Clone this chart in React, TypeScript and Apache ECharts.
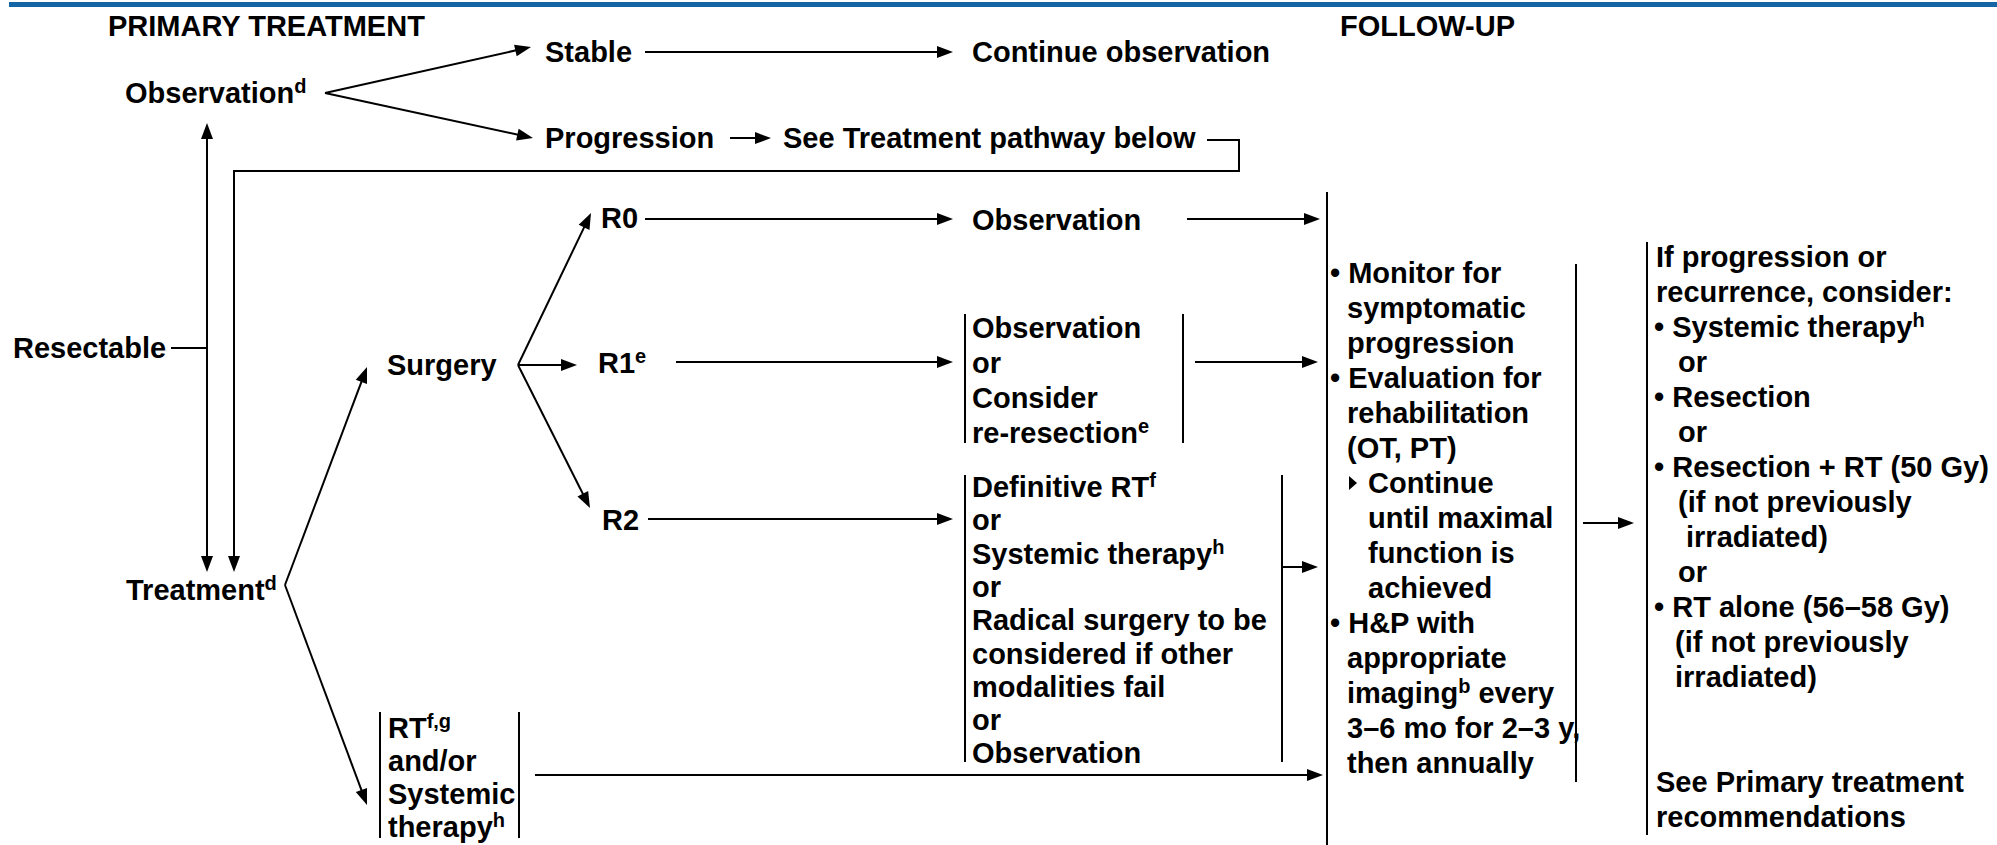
import React, { useEffect, useRef } from "react";
import * as echarts from "echarts";

// ---- content ----
const headers = ["PRIMARY TREATMENT", "FOLLOW-UP"];
const entryLabels = ["Observation{sup|d}", "Resectable", "Treatment{sup|d}"];
const observationBranches = ["Stable", "Progression"];
const observationOutcomes = ["Continue observation", "See Treatment pathway below"];
const treatmentBranches = ["Surgery"];
const resectionMargins = ["R0", "R1{sup|e}", "R2"];
const r0Options = ["Observation"];
const r1Options = ["Observation", "or", "Consider", "re-resection{sup|e}"];
const r2Options = [
  "Definitive RT{sup|f}", "or", "Systemic therapy{sup|h}", "or",
  "Radical surgery to be", "considered if other", "modalities fail", "or", "Observation",
];
const rtOptions = ["RT{sup|f,g}", "and/or", "Systemic", "therapy{sup|h}"];
const followUpLines = [
  "• Monitor for", "symptomatic", "progression", "• Evaluation for", "rehabilitation",
  "(OT, PT)", "Continue", "until maximal", "function is", "achieved", "• H&P with",
  "appropriate", "imaging{sup|b} every", "3–6 mo for 2–3 y,", "then annually",
];
const recurrenceLines = [
  "If progression or", "recurrence, consider:", "• Systemic therapy{sup|h}", "or",
  "• Resection", "or", "• Resection + RT (50 Gy)", "(if not previously", "irradiated)",
  "or", "• RT alone (56–58 Gy)", "(if not previously", "irradiated)", "", "",
  "See Primary treatment", "recommendations",
];

// ---- layout ----
const FONT = '"Liberation Sans", Arial, Helvetica, sans-serif';
const INK = "#000";
const BLUE = "#1365a6";

function txt(str: string, x: number, y: number): any {
  return {
    type: "text",
    x,
    y,
    silent: true,
    style: {
      text: str,
      fill: INK,
      fontSize: 29,
      fontWeight: "bold",
      fontFamily: FONT,
      align: "left",
      verticalAlign: "middle",
      lineHeight: 35,
      rich: {
        sup: {
          fontSize: 20,
          fontWeight: "bold",
          fontFamily: FONT,
          fill: INK,
          lineHeight: 35,
          padding: [0, 0, 14, 0],
        },
      },
    },
  };
}

function seg(x1: number, y1: number, x2: number, y2: number): any {
  return {
    type: "line",
    silent: true,
    shape: { x1, y1, x2, y2 },
    style: { stroke: INK, lineWidth: 2 },
  };
}

function head(x1: number, y1: number, x2: number, y2: number, L = 16, W = 6): any {
  const dx = x2 - x1;
  const dy = y2 - y1;
  const len = Math.sqrt(dx * dx + dy * dy);
  const ux = dx / len;
  const uy = dy / len;
  const bx = x2 - ux * L;
  const by = y2 - uy * L;
  return {
    type: "polygon",
    silent: true,
    shape: {
      points: [
        [x2, y2],
        [bx - uy * W, by + ux * W],
        [bx + uy * W, by - ux * W],
      ],
    },
    style: { fill: INK },
  };
}

function arrow(x1: number, y1: number, x2: number, y2: number): any[] {
  const dx = x2 - x1;
  const dy = y2 - y1;
  const len = Math.sqrt(dx * dx + dy * dy);
  const bx = x2 - (dx / len) * 14;
  const by = y2 - (dy / len) * 14;
  return [seg(x1, y1, bx, by), head(x1, y1, x2, y2)];
}

function buildGraphics(): any[] {
  const g: any[] = [];
  // top rule
  g.push({ type: "rect", silent: true, shape: { x: 9, y: 2, width: 1988, height: 5 }, style: { fill: BLUE } });

  // headers
  g.push(txt(headers[0], 108, 26));
  g.push(txt(headers[1], 1340, 26));

  // entry labels
  g.push(txt(entryLabels[0], 125, 93));
  g.push(txt(entryLabels[1], 13, 348));
  g.push(txt(entryLabels[2], 126, 590));

  // observation branch
  g.push(...arrow(325, 93, 531, 47));
  g.push(...arrow(325, 93, 533, 138));
  g.push(txt(observationBranches[0], 545, 52));
  g.push(txt(observationBranches[1], 545, 138));
  g.push(...arrow(645, 52, 953, 52));
  g.push(txt(observationOutcomes[0], 972, 52));
  g.push(...arrow(730, 138, 771, 138));
  g.push(txt(observationOutcomes[1], 783, 138));
  // feedback path to treatment
  g.push({
    type: "polyline",
    silent: true,
    shape: { points: [[1207, 140], [1239, 140], [1239, 171], [234, 171], [234, 560]] },
    style: { stroke: INK, lineWidth: 2, fill: "none" },
  });
  g.push(head(234, 171, 234, 572));

  // double arrow observation <-> treatment
  g.push(seg(207, 137, 207, 560));
  g.push(head(207, 348, 207, 123));
  g.push(head(207, 348, 207, 572));
  g.push(seg(171, 348, 207, 348));

  // treatment branches
  g.push(...arrow(285, 585, 367, 367));
  g.push(...arrow(285, 585, 367, 805));
  g.push(txt(treatmentBranches[0], 387, 365));

  // surgery branches
  g.push(...arrow(518, 365, 591, 213));
  g.push(...arrow(518, 365, 577, 365));
  g.push(...arrow(518, 365, 590, 508));
  g.push(txt(resectionMargins[0], 601, 218));
  g.push(txt(resectionMargins[1], 598, 363));
  g.push(txt(resectionMargins[2], 602, 520));

  // R0
  g.push(...arrow(645, 219, 953, 219));
  g.push(txt(r0Options[0], 972, 220));
  g.push(...arrow(1187, 219, 1320, 219));

  // R1
  g.push(...arrow(676, 362, 953, 362));
  g.push(seg(965, 314, 965, 443));
  g.push(seg(1183, 314, 1183, 443));
  r1Options.forEach((s, i) => g.push(txt(s, 972, 328 + i * 35)));
  g.push(...arrow(1195, 362, 1318, 362));

  // R2
  g.push(...arrow(648, 519, 953, 519));
  g.push(seg(965, 475, 965, 762));
  g.push(seg(1282, 475, 1282, 762));
  r2Options.forEach((s, i) => g.push(txt(s, 972, 487 + i * 33.3)));
  g.push(...arrow(1282, 567, 1318, 567));

  // RT box
  g.push(seg(380, 712, 380, 838));
  g.push(seg(519, 712, 519, 838));
  rtOptions.forEach((s, i) => g.push(txt(s, 388, 728 + i * 33)));
  g.push(...arrow(535, 775, 1323, 775));

  // follow-up column
  g.push(seg(1327, 192, 1327, 845));
  const fuX = [1330, 1347, 1347, 1330, 1347, 1347, 1368, 1368, 1368, 1368, 1330, 1347, 1347, 1347, 1347];
  followUpLines.forEach((s, i) => g.push(txt(s, fuX[i], 273 + i * 35)));
  g.push({
    type: "polygon",
    silent: true,
    shape: { points: [[1349, 476], [1357, 483], [1349, 490]] },
    style: { fill: INK },
  });
  g.push(seg(1576, 264, 1576, 782));
  g.push(...arrow(1583, 523, 1634, 523));

  // recurrence column
  g.push(seg(1647, 242, 1647, 835));
  const rcX = [1656, 1656, 1654, 1678, 1654, 1678, 1654, 1678, 1686, 1678, 1654, 1675, 1675, 1656, 1656, 1656, 1656];
  recurrenceLines.forEach((s, i) => {
    if (s) g.push(txt(s, rcX[i], 257 + i * 35));
  });

  return g;
}

export default function App() {
  const ref = useRef<HTMLDivElement>(null);
  useEffect(() => {
    if (!ref.current) return;
    const chart = echarts.init(ref.current, null, { renderer: "svg" });
    chart.setOption({
      animation: false,
      backgroundColor: "#ffffff",
      graphic: { elements: buildGraphics() },
    });
    return () => chart.dispose();
  }, []);
  return (
    <div
      ref={ref}
      style={{ position: "fixed", left: 0, top: 0, width: "1997px", height: "845px", background: "#fff" }}
    />
  );
}
